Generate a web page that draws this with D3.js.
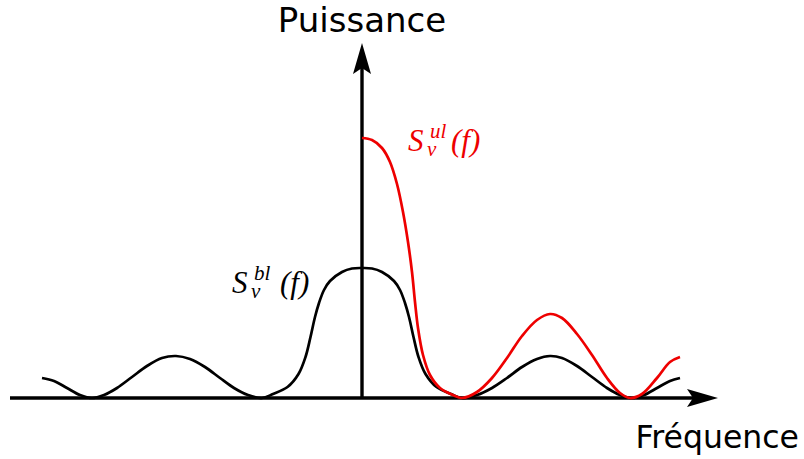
<!DOCTYPE html>
<html><head><meta charset="utf-8">
<script src="https://cdn.jsdelivr.net/npm/d3@7"></script>
<style>html,body{margin:0;padding:0;background:#fff;}svg{display:block;}</style>
</head><body>
<svg id="c" width="804" height="459"></svg>
<script>
// Black curve S_v^bl(f): frequency, power
const blackF = [-3.2,-3.08,-2.95,-2.82,-2.7,-2.58,-2.45,-2.3,-2.15,-2.0,-1.86,-1.72,-1.57,-1.42,-1.28,-1.14,-1.0,-0.89,-0.745,-0.635,-0.565,-0.515,-0.47,-0.43,-0.38,-0.32,-0.2,-0.1,0,0.1,0.2,0.32,0.38,0.43,0.47,0.515,0.565,0.635,0.745,0.89,1.0,1.15,1.3,1.45,1.6,1.75,1.88,2.0,2.15,2.3,2.45,2.58,2.7,2.82,2.95,3.08,3.18];
const blackP = [0.2,0.17,0.1,0.03,0,0.03,0.1,0.21,0.32,0.4,0.42,0.39,0.31,0.2,0.1,0.03,0,0.04,0.11,0.24,0.41,0.61,0.81,0.95,1.08,1.17,1.26,1.295,1.30,1.295,1.26,1.17,1.08,0.95,0.81,0.61,0.41,0.24,0.11,0.04,0,0.03,0.1,0.2,0.31,0.39,0.42,0.4,0.32,0.21,0.1,0.03,0,0.03,0.1,0.17,0.2];
// Red curve S_v^ul(f), f >= 0
const redF = [0,0.1,0.2,0.28,0.35,0.41,0.46,0.5,0.53,0.56,0.61,0.68,0.78,0.91,1.0,1.15,1.3,1.45,1.6,1.75,1.88,2.0,2.15,2.3,2.45,2.58,2.68,2.8,2.95,3.08,3.18];
const redP = [2.60,2.58,2.50,2.36,2.14,1.86,1.56,1.26,0.96,0.70,0.43,0.23,0.10,0.03,0,0.06,0.2,0.4,0.62,0.78,0.84,0.8,0.64,0.43,0.2,0.05,0,0.04,0.2,0.36,0.41];
const axisLabels = {x: "Fréquence", y: "Puissance"};

const svg = d3.select("#c");
const x = d3.scaleLinear().domain([-3.52, 3.56]).range([10, 718]);
const y = d3.scaleLinear().domain([0, 3.55]).range([398, 43]);

const line = d3.line().x(d => x(d[0])).y(d => y(d[1])).curve(d3.curveCatmullRom.alpha(0.5));

// axes
svg.append("line").attr("x1", x(-3.52)).attr("x2", x(3.56) - 16).attr("y1", y(0)).attr("y2", y(0))
  .attr("stroke", "#000").attr("stroke-width", 3.4);
svg.append("line").attr("x1", x(0)).attr("x2", x(0)).attr("y1", y(0)).attr("y2", y(3.55) + 16)
  .attr("stroke", "#000").attr("stroke-width", 3.4);
// arrowheads
const tx = x(3.56), ty = y(0);
svg.append("path").attr("d", `M${tx},${ty} L${tx-31},${ty-9} L${tx-25},${ty} L${tx-31},${ty+9} Z`).attr("fill", "#000");
const ux = x(0), uy = y(3.55);
svg.append("path").attr("d", `M${ux},${uy} L${ux-9},${uy+31} L${ux},${uy+25} L${ux+9},${uy+31} Z`).attr("fill", "#000");

svg.append("path").datum(blackF.map((f, i) => [f, blackP[i]])).attr("d", line)
  .attr("fill", "none").attr("stroke", "#000").attr("stroke-width", 2.7);
svg.append("path").datum(redF.map((f, i) => [f, redP[i]])).attr("d", line)
  .attr("fill", "none").attr("stroke", "#ee0000").attr("stroke-width", 2.7);

svg.append("text").attr("x", x(0)).attr("y", 32).attr("text-anchor", "middle")
  .attr("font-family", "DejaVu Sans").attr("font-size", 34).text(axisLabels.y);
svg.append("text").attr("x", 799).attr("y", 448).attr("text-anchor", "end")
  .attr("font-family", "DejaVu Sans").attr("font-size", 31.5).text(axisLabels.x);

function mathLabel(xp, yp, sup, color, parenDx) {
  const t = svg.append("text").attr("fill", color)
    .attr("font-family", "Liberation Serif").attr("font-style", "italic");
  t.append("tspan").attr("x", xp).attr("y", yp).attr("font-size", 31).text("S");
  t.append("tspan").attr("x", xp + 22).attr("y", yp - 13).attr("font-size", 21).text(sup);
  t.append("tspan").attr("x", xp + 19).attr("y", yp + 5).attr("font-size", 21).text("ν");
  t.append("tspan").attr("x", xp + parenDx).attr("y", yp).attr("font-size", 31).text("(f)");
}
mathLabel(232, 293, "bl", "#000", 48);
mathLabel(408, 151, "ul", "#ee0000", 43);
</script>
</body></html>
